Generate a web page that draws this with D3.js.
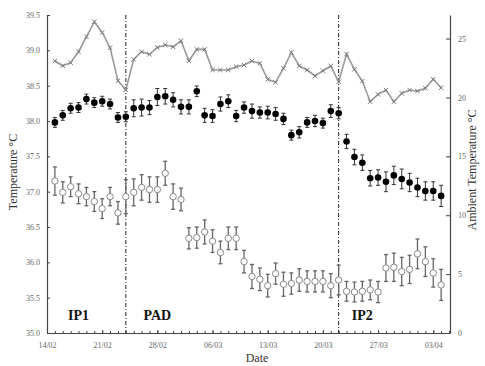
<!DOCTYPE html>
<html><head><meta charset="utf-8">
<script src="https://cdn.jsdelivr.net/npm/d3@7"></script>
<style>
body{margin:0;background:#fff;}
svg{display:block;font-family:"Liberation Serif","Times New Roman",serif;}
</style></head>
<body><svg id="c" width="485" height="366"></svg>
<script>
const dates = ["15/02","16/02","17/02","18/02","19/02","20/02","21/02","22/02","23/02","24/02",
"25/02","26/02","27/02","28/02","29/02","01/03","02/03","03/03","04/03","05/03",
"06/03","07/03","08/03","09/03","10/03","11/03","12/03","13/03","14/03","15/03",
"16/03","17/03","18/03","19/03","20/03","21/03","22/03","23/03","24/03","25/03",
"26/03","27/03","28/03","29/03","30/03","31/03","01/04","02/04","03/04","04/04"];
const bodyMean = [37.98,38.08,38.18,38.19,38.31,38.26,38.28,38.24,38.05,38.06,
38.18,38.19,38.19,38.34,38.35,38.30,38.20,38.20,38.42,38.08,
38.07,38.24,38.28,38.07,38.19,38.14,38.12,38.12,38.10,38.03,
37.80,37.84,37.98,38.00,37.97,38.14,38.11,37.71,37.49,37.41,
37.19,37.20,37.14,37.23,37.18,37.13,37.06,37.01,37.01,36.94];
const bodyErr = [0.07,0.07,0.07,0.07,0.07,0.07,0.07,0.07,0.07,0.07,
0.12,0.12,0.1,0.12,0.11,0.1,0.1,0.1,0.075,0.1,
0.09,0.1,0.09,0.08,0.08,0.1,0.08,0.09,0.09,0.08,
0.07,0.08,0.07,0.08,0.07,0.09,0.08,0.1,0.11,0.11,
0.11,0.11,0.14,0.13,0.14,0.13,0.13,0.13,0.13,0.15];
const skinMean = [37.15,36.99,37.07,36.97,36.93,36.86,36.76,36.93,36.70,36.93,
36.99,37.06,37.03,37.03,37.26,36.93,36.89,36.34,36.35,36.43,
36.30,36.14,36.34,36.34,36.01,35.80,35.76,35.67,35.84,35.69,
35.70,35.75,35.73,35.73,35.73,35.67,35.75,35.59,35.58,35.59,
35.61,35.58,35.92,35.93,35.87,35.90,36.12,36.01,35.85,35.68];
const skinErr = [0.2,0.15,0.14,0.14,0.13,0.14,0.14,0.13,0.16,0.24,
0.19,0.18,0.18,0.18,0.17,0.18,0.16,0.15,0.15,0.17,
0.16,0.16,0.16,0.16,0.16,0.17,0.16,0.16,0.15,0.17,
0.15,0.16,0.15,0.15,0.15,0.17,0.21,0.14,0.14,0.14,
0.14,0.15,0.19,0.2,0.2,0.2,0.21,0.21,0.2,0.22];
const ambient = [23.09,22.69,22.95,23.88,25.15,26.43,25.52,24.22,21.42,20.63,
23.23,23.88,23.66,24.25,24.45,24.30,24.81,23.11,24.08,24.08,
22.33,22.33,22.33,22.61,22.75,23.09,22.89,21.54,21.28,22.47,
23.83,22.67,22.33,21.82,22.27,22.67,21.33,23.68,22.39,21.39,
19.64,20.26,20.63,19.64,20.35,20.63,20.54,20.77,21.54,20.82];
const xTickLabels = ["14/02","21/02","28/02","06/03","13/03","20/03","27/03","03/04"];
const leftTicks = [35.0,35.5,36.0,36.5,37.0,37.5,38.0,38.5,39.0,39.5];
const rightTicks = [0,5,10,15,20,25];
const phaseDates = ["24/02","22/03"];
const phaseLabels = [{t:"IP1",d:"18/02"},{t:"PAD",d:"28/02"},{t:"IP2",d:"25/03"}];

const parse = s => { const [d,m] = s.split("/").map(Number); return new Date(2012, m-1, d); };
const svg = d3.select("#c");
const L = 47, R = 450, T = 15, B = 333;
const x = d3.scaleTime().domain([new Date(2012,1,14), new Date(2012,3,5,3)]).range([L,R]);
const yL = d3.scaleLinear().domain([35,39.5]).range([B,T]);
const yR = d3.scaleLinear().domain([0,27]).range([B,T]);

// axes
const axL = d3.axisLeft(yL).tickValues(leftTicks).tickFormat(d3.format(".1f")).tickSizeInner(-3).tickSizeOuter(0).tickPadding(7);
const gL = svg.append("g").attr("transform",`translate(${L},0)`).call(axL);
const axR = d3.axisRight(yR).tickValues(rightTicks).tickSizeInner(-4).tickSizeOuter(0).tickPadding(8);
const gR = svg.append("g").attr("transform",`translate(${R},0)`).call(axR);
const minor = d3.timeDay.range(new Date(2012,1,14), new Date(2012,3,5,3));
const axBm = d3.axisBottom(x).tickValues(minor).tickFormat("").tickSizeInner(-2).tickSizeOuter(0);
const gBm = svg.append("g").attr("transform",`translate(0,${B})`).call(axBm);
const axB = d3.axisBottom(x).tickValues(xTickLabels.map(parse)).tickFormat((d,i)=>xTickLabels[i]).tickSizeInner(-3).tickSizeOuter(0).tickPadding(8);
const gB = svg.append("g").attr("transform",`translate(0,${B})`).call(axB);
[gL,gR,gB,gBm].forEach(g=>{
  g.selectAll("path").attr("stroke","#444").attr("stroke-width",1.2);
  g.selectAll("line").attr("stroke","#444");
  g.selectAll("text").attr("font-family","Liberation Serif, serif").attr("font-size",8).attr("fill","#666");
});
gB.selectAll("text").attr("dy","0.9em");

// titles
svg.append("text").attr("transform",`translate(17,172) rotate(-90)`).attr("text-anchor","middle")
  .attr("font-size",12).attr("fill","#333").text("Temperature °C");
svg.append("text").attr("transform",`translate(476,170) rotate(-90)`).attr("text-anchor","middle")
  .attr("font-size",12).attr("fill","#333").text("Ambient Temperature °C");
svg.append("text").attr("x",257).attr("y",362).attr("text-anchor","middle")
  .attr("font-size",12).attr("fill","#333").text("Date");

// phase lines
svg.selectAll(".ph").data(phaseDates).join("line")
  .attr("x1",d=>x(parse(d))).attr("x2",d=>x(parse(d))).attr("y1",T).attr("y2",B)
  .attr("stroke","#222").attr("stroke-width",1).attr("stroke-dasharray","4,2,1,2");
svg.selectAll(".pl").data(phaseLabels).join("text")
  .attr("x",d=>x(parse(d.d))).attr("y",320).attr("text-anchor","middle")
  .attr("font-size",14).attr("font-weight","bold").attr("fill","#111").text(d=>d.t);

// ambient line
const dd = dates.map(parse);
svg.append("path").datum(ambient)
  .attr("fill","none").attr("stroke","#999").attr("stroke-width",1.6)
  .attr("d", d3.line().x((v,i)=>x(dd[i])).y(v=>yR(v)));
svg.append("g").selectAll("path").data(ambient).join("path")
  .attr("transform",(v,i)=>`translate(${x(dd[i])},${yR(v)})`)
  .attr("d","M-2.2,-2.2L2.2,2.2M-2.2,2.2L2.2,-2.2").attr("stroke","#777").attr("stroke-width",1);

// error bars helper
function errs(mean, err, color, sw){
  const g = svg.append("g").attr("stroke",color).attr("stroke-width",sw);
  mean.forEach((m,i)=>{
    const cx = x(dd[i]), y1 = yL(m-err[i]), y2 = yL(m+err[i]);
    g.append("line").attr("x1",cx).attr("x2",cx).attr("y1",y1).attr("y2",y2);
    g.append("line").attr("x1",cx-2).attr("x2",cx+2).attr("y1",y1).attr("y2",y1);
    g.append("line").attr("x1",cx-2).attr("x2",cx+2).attr("y1",y2).attr("y2",y2);
  });
}
errs(skinMean, skinErr, "#666", 1.3);
svg.append("g").selectAll("circle").data(skinMean).join("circle")
  .attr("cx",(v,i)=>x(dd[i])).attr("cy",v=>yL(v)).attr("r",3.2)
  .attr("fill","#fff").attr("stroke","#888").attr("stroke-width",1);
errs(bodyMean, bodyErr, "#333", 1);
svg.append("g").selectAll("circle").data(bodyMean).join("circle")
  .attr("cx",(v,i)=>x(dd[i])).attr("cy",v=>yL(v)).attr("r",3.3).attr("fill","#000");
</script></body></html>
